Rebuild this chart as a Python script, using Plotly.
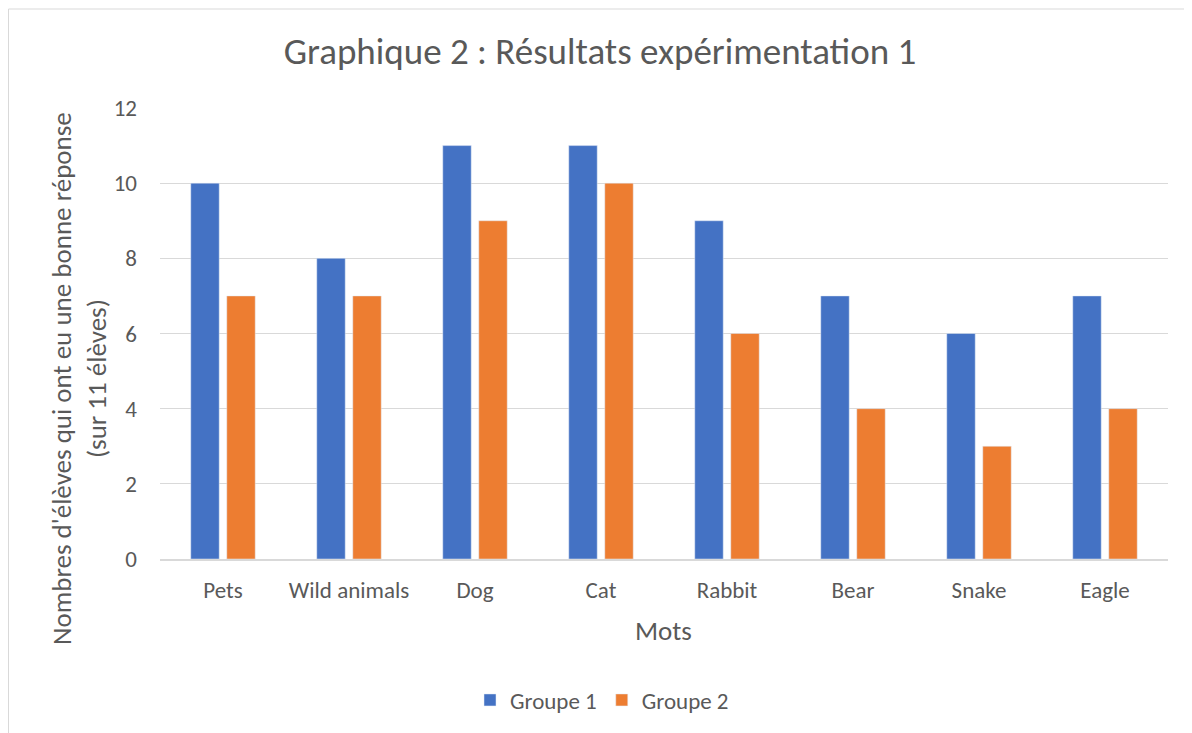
import plotly.graph_objects as go

categories = ["Pets", "Wild animals", "Dog", "Cat", "Rabbit", "Bear", "Snake", "Eagle"]
groupe1 = [10, 8, 11, 11, 9, 7, 6, 7]
groupe2 = [7, 7, 9, 10, 6, 4, 3, 4]
y_ticks = [0, 2, 4, 6, 8, 10, 12]

W, H = 1192, 733
OFF = 8  # page body margin offset
# plot area in screen pixels
SX0, SX1, SY0, SY1 = 160, 1168, 108, 559
L, R = SX0 - OFF, W - (SX1 - OFF)
T, B = SY0 - OFF, H - (SY1 - OFF)
pw, ph = W - L - R, H - T - B

def px_x(p):  # screen px -> paper
    return (p - OFF - L) / pw

def px_y(p):
    return (H - B - (p - OFF)) / ph

FONT = "Calibri, Carlito, Lato, sans-serif"
GREY = "#595959"

fig = go.Figure()
fig.add_trace(go.Bar(name="Groupe 1", x=categories, y=groupe1, marker_color="#4472C4"))
fig.add_trace(go.Bar(name="Groupe 2", x=categories, y=groupe2, marker_color="#ED7D31"))

fig.update_layout(
    width=W, height=H,
    margin=dict(l=L, r=R, t=T, b=B),
    paper_bgcolor="white", plot_bgcolor="white",
    barmode="group", bargap=0.4286, bargroupgap=0.21,
    font=dict(family=FONT, color=GREY, size=23),
    title=dict(text="Graphique 2 : Résultats expérimentation 1",
               xref="container", x=(600 - OFF) / W, xanchor="center",
               yref="container", y=1 - (51 - OFF) / H, yanchor="middle",
               font=dict(size=37, color=GREY, family=FONT)),
    legend=dict(orientation="h", xref="container", x=(602 - OFF) / W, xanchor="center",
                yref="container", y=1 - (700 - OFF) / H, yanchor="middle",
                font=dict(size=23, color=GREY), itemwidth=30, traceorder="normal"),
    xaxis=dict(showgrid=False, showline=True, linecolor="#D9D9D9", linewidth=1.5,
               ticks="", tickfont=dict(size=23, color=GREY), ticklabelstandoff=10),
    yaxis=dict(range=[0, 12], tickvals=y_ticks, showgrid=True, gridcolor="#D9D9D9",
               gridwidth=1, zeroline=False, showline=False, ticks="",
               tickfont=dict(size=23, color=GREY), ticklabelstandoff=22),
    showlegend=True,
)

fig.add_annotation(text="Mots", xref="paper", yref="paper",
                   x=px_x(663), y=px_y(630), xanchor="center", yanchor="middle",
                   showarrow=False, font=dict(size=27, color=GREY, family=FONT))
fig.add_annotation(text="Nombres d'élèves qui ont eu une bonne réponse<br>(sur 11 élèves)",
                   xref="paper", yref="paper", x=px_x(79), y=px_y(379),
                   xanchor="center", yanchor="middle", textangle=-90,
                   showarrow=False, font=dict(size=27, color=GREY, family=FONT))

fig.add_shape(type="rect", xref="paper", yref="paper",
              x0=px_x(OFF + 0.5), x1=px_x(1230), y0=px_y(9), y1=px_y(780),
              line=dict(color="#D9D9D9", width=1), fillcolor="rgba(0,0,0,0)", layer="below")

fig.write_html("out.html")
